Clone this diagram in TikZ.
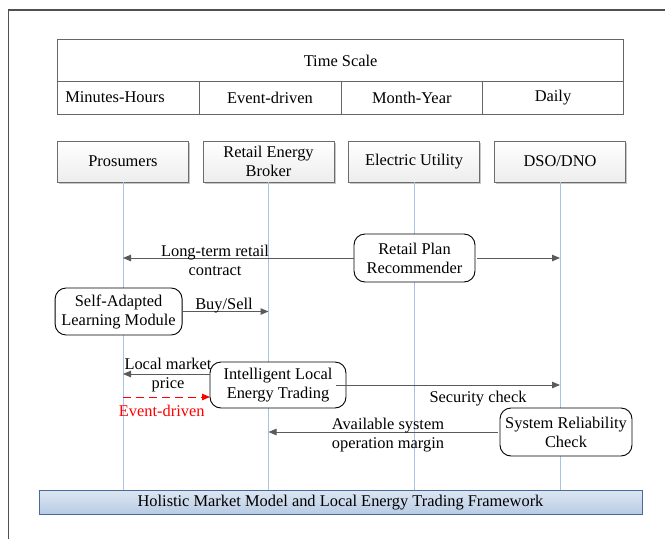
\documentclass[tikz,border=0pt]{standalone}
\usepackage{fontspec}
\setmainfont{Liberation Serif}
\usetikzlibrary{arrows.meta,shadows}
\definecolor{lifeblue}{HTML}{A9C1E2}
\definecolor{msggray}{HTML}{5A5A5A}
\definecolor{framegray}{HTML}{505050}
\definecolor{barborder}{HTML}{4A6B9A}
\definecolor{bartop}{HTML}{DCE6F2}
\definecolor{barbottom}{HTML}{B8CCE4}
\begin{document}
\begin{tikzpicture}[x=1pt,y=-1pt,
  font=\fontsize{16.4}{19}\selectfont,
  actor/.style={draw=gray!85!black, line width=0.8pt, top color=white, bottom color=gray!14,
    minimum width=131pt, minimum height=41pt, inner sep=2pt, align=center,
    drop shadow={shadow xshift=1.6pt, shadow yshift=-1.6pt, fill=gray!55, opacity=0.8}},
  proc/.style={draw=black, line width=0.9pt, fill=white, rounded corners=11pt,
    inner sep=3pt, align=center},
  lifeline/.style={draw=lifeblue, line width=0.9pt},
  msg/.style={draw=msggray, line width=1pt, -{Triangle[length=8pt,width=6.5pt]}},
  evmsg/.style={draw=red, line width=1pt, dash pattern=on 8pt off 5pt,
    -{Triangle[length=8pt,width=6.5pt]}},
  lbl/.style={inner sep=0pt, align=center},
  cell/.style={inner sep=0pt}]

\useasboundingbox (0,0) rectangle (665,539);

% outer frame (left and top edges)
\draw[framegray, line width=1.3pt] (8.5,539) -- (8.5,10) -- (665,10);

% time scale table
\draw[gray!80!black, line width=0.8pt] (57.6,39.3) rectangle (623.7,114.3);
\draw[gray!80!black, line width=0.8pt] (57.6,81) -- (623.7,81);
\foreach \xx in {199,341,482.6}
  \draw[gray!80!black, line width=0.8pt] (\xx,81) -- (\xx,114.3);
\node[cell] (tscale) at (340.6,61) {Time Scale};
\node[cell] (tminh) at (115,97.5) {Minutes-Hours};
\node[cell] (tevent) at (270,97.5) {Event-driven};
\node[cell] (tmonth) at (411.8,97.5) {Month-Year};
\node[cell] (tdaily) at (553,97.5) {Daily};

% bottom framework bar
\draw[barborder, line width=0.9pt, top color=bartop, bottom color=barbottom]
  (39,490) rectangle (642,514);
\node[cell] (frame) at (340.5,502.5) {Holistic Market Model and Local Energy Trading Framework};

% actors
\node[actor] (pros) at (123,161.4) {Prosumers};
\node[actor] (brk)  at (268.5,161.4) {Retail Energy\\Broker};
\node[actor] (util) at (414,161.4) {Electric Utility};
\node[actor] (dso)  at (560,161.4) {DSO/DNO};

% lifelines
\foreach \a in {pros,brk,util,dso}
  \draw[lifeline] (\a.south) -- (\a.south |- 0,489.5);

% process boxes
\node[proc, minimum width=121pt, minimum height=48pt] (rec) at (414.5,258) {Retail Plan\\Recommender};
\node[proc, minimum width=127pt, minimum height=47pt] (sam) at (118.6,311.5) {Self-Adapted\\Learning Module};
\node[proc, minimum width=136pt, minimum height=46pt] (ilet) at (278,385) {Intelligent Local\\Energy Trading};
\node[proc, minimum width=132pt, minimum height=48pt] (src) at (566,432) {System Reliability\\Check};

% lifeline end points of the messages
\coordinate (lmpEnd) at (123,374);
\coordinate (lmpStart) at (210,374);
\coordinate (evStart) at (123,397);
\coordinate (evEnd) at (210,397);

% messages
\draw[msg] (rec.west) -- (rec.west -| pros);
\draw[msg] ([xshift=2pt]rec.east) -- (rec.east -| dso);
\draw[msg] (sam.east) -- (sam.east -| brk);
\draw[msg] (lmpStart) -- (lmpEnd);
\draw[evmsg] (evStart) -- (evEnd);
\draw[msg] ([xshift=-10pt]ilet.east) -- (ilet.east -| dso);
\draw[msg] ([xshift=-2pt]src.west) -- (src.west -| brk);

% message labels
\node[lbl] (lLong) at (215,260) {Long-term retail\\contract};
\node[lbl] (lBuy) at (224,306) {Buy/Sell};
\node[lbl] (lLmp) at (168,375) {Local market\\price};
\node[lbl, text=red] (lEv) at (161.7,410.5) {Event-driven};
\node[lbl] (lSec) at (478,399) {Security check};
\node[lbl] (lAvail) at (388,435) {Available system\\operation margin};

\end{tikzpicture}
\end{document}
